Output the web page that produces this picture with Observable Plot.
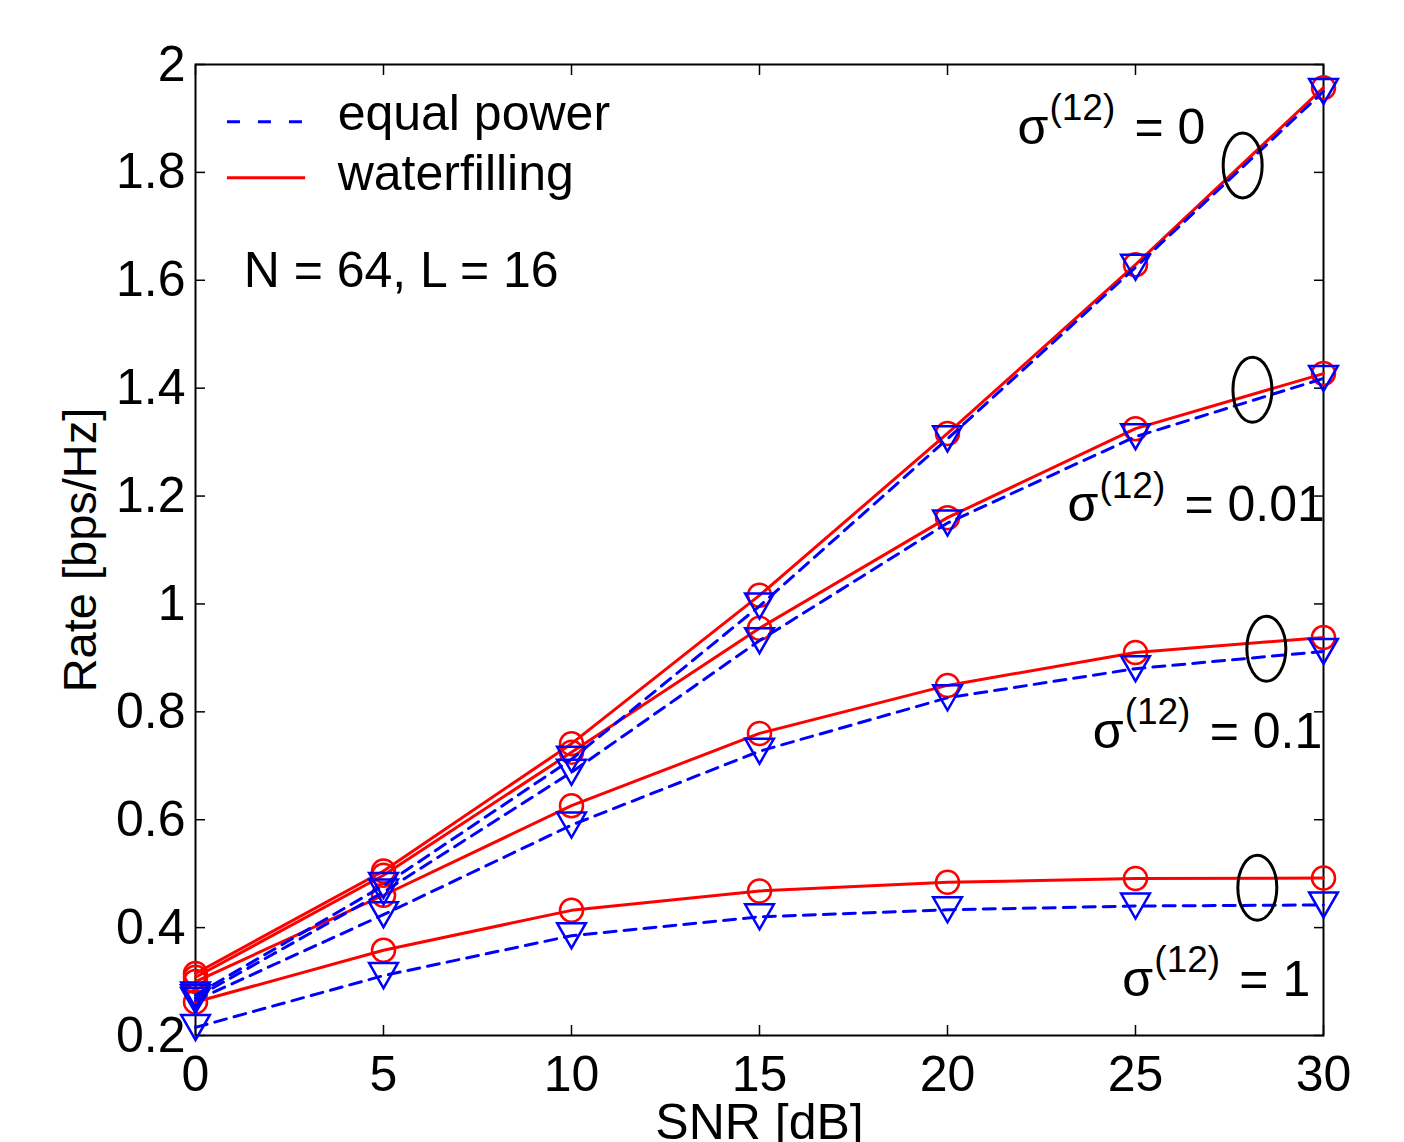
<!DOCTYPE html>
<html><head><meta charset="utf-8">
<script src="https://cdn.jsdelivr.net/npm/d3@7"></script>
<script src="https://cdn.jsdelivr.net/npm/@observablehq/plot@0.6"></script>
<style>body{margin:0;background:#fff} svg{display:block;font-family:"Liberation Sans",Arial,sans-serif}</style>
</head><body><div id="chart"></div>
<script>
// ---- data ----
const snr = [0, 5, 10, 15, 20, 25, 30];
const sigmas = ["0", "0.01", "0.1", "1"];
// waterfilling (red, solid)
const wf_s0   = [0.315, 0.505, 0.741, 1.016, 1.316, 1.629, 1.957];
const wf_s001 = [0.308, 0.497, 0.725, 0.955, 1.160, 1.325, 1.427];
const wf_s01  = [0.300, 0.460, 0.626, 0.760, 0.849, 0.910, 0.938];
const wf_s1   = [0.262, 0.358, 0.432, 0.468, 0.484, 0.491, 0.492];
// equal power (blue, dashed)
const ep_s0   = [0.275, 0.478, 0.712, 0.996, 1.306, 1.624, 1.950];
const ep_s001 = [0.270, 0.466, 0.688, 0.932, 1.150, 1.310, 1.418];
const ep_s01  = [0.265, 0.424, 0.590, 0.727, 0.826, 0.880, 0.912];
const ep_s1   = [0.215, 0.311, 0.385, 0.420, 0.433, 0.440, 0.442];
const xTicks = [0, 5, 10, 15, 20, 25, 30];
const yTicks = [0.2, 0.4, 0.6, 0.8, 1, 1.2, 1.4, 1.6, 1.8, 2];
// annotation anchors (data coordinates)
const labelX = [21.86, 23.19, 23.86, 24.65];
const labelY = [1.883, 1.184, 0.7634, 0.3037];
const ellipseX = [27.85, 28.11, 28.48, 28.24];
const ellipseY = [1.813, 1.397, 0.917, 0.474];
const legendNames = ["equal power", "waterfilling"];

// ---- build tables ----
const wfSeries = [wf_s0, wf_s001, wf_s01, wf_s1];
const epSeries = [ep_s0, ep_s001, ep_s01, ep_s1];
const toRows = (series) => series.flatMap((vals, k) => vals.map((v, i) => ({snr: snr[i], rate: v, sigma: sigmas[k]})));
const wfRows = toRows(wfSeries);
const epRows = toRows(epSeries);
const labels = sigmas.map((s, i) => ({x: labelX[i], y: labelY[i], v: "= " + s}));
const ellipses = ellipseX.map((x, i) => ({x, y: ellipseY[i]}));

const RED = "#ff0000", BLUE = "#0000ff";
const FS = 50;

const triDown = {draw(ctx, size) {
  const r = Math.sqrt(size / Math.PI), w = r * 1.15;
  ctx.moveTo(-w, -r); ctx.lineTo(w, -r); ctx.lineTo(0, r); ctx.closePath();
}};
const ellipseSym = {draw(ctx, size) {
  const ry = Math.sqrt(size / Math.PI), rx = ry * 0.6, k = 0.5523;
  ctx.moveTo(rx, 0);
  ctx.bezierCurveTo(rx, ry * k, rx * k, ry, 0, ry);
  ctx.bezierCurveTo(-rx * k, ry, -rx, ry * k, -rx, 0);
  ctx.bezierCurveTo(-rx, -ry * k, -rx * k, -ry, 0, -ry);
  ctx.bezierCurveTo(rx * k, -ry, rx, -ry * k, rx, 0);
  ctx.closePath();
}};

// legend layout (data coordinates)
const legendEP = [{name: legendNames[0], y: 1.894}];
const legendWF = [{name: legendNames[1], y: 1.79}];

const chart = Plot.plot({
  width: 1404, height: 1142,
  marginTop: 64, marginLeft: 195, marginRight: 81, marginBottom: 107,
  style: {fontFamily: "Liberation Sans, Arial, sans-serif", fontSize: FS + "px", background: "#fff"},
  x: {domain: [0, 30]},
  y: {domain: [0.2, 2]},
  marks: [
    // axes: labels
    Plot.axisX(xTicks, {tickSize: 0, tickPadding: 20, fontSize: FS, label: null, color: "#000", tickFormat: d => String(d)}),
    Plot.axisY(yTicks, {tickSize: 0, tickPadding: 10, fontSize: FS, label: null, color: "#000", tickFormat: d => String(d)}),
    // inward ticks
    Plot.axisX(xTicks, {anchor: "bottom", tickSize: -10, tickFormat: () => "", label: null, strokeWidth: 1.5}),
    Plot.axisX(xTicks, {anchor: "top", tickSize: -10, tickFormat: () => "", label: null, strokeWidth: 1.5}),
    Plot.axisY(yTicks, {anchor: "left", tickSize: -10, tickFormat: () => "", label: null, strokeWidth: 1.5}),
    Plot.axisY(yTicks, {anchor: "right", tickSize: -10, tickFormat: () => "", label: null, strokeWidth: 1.5}),
    Plot.frame({stroke: "#000", strokeWidth: 2}),
    // waterfilling
    Plot.line(wfRows, {x: "snr", y: "rate", z: "sigma", stroke: RED, strokeWidth: 3}),
    Plot.dot(wfRows, {x: "snr", y: "rate", r: 11.5, stroke: RED, strokeWidth: 2.5, fill: "none"}),
    // equal power
    Plot.line(epRows, {x: "snr", y: "rate", z: "sigma", stroke: BLUE, strokeWidth: 3, strokeDasharray: "12,8"}),
    Plot.dot(epRows, {x: "snr", y: "rate", r: 12.5, symbol: triDown, stroke: BLUE, strokeWidth: 2.5, fill: "none"}),
    // ellipses
    Plot.dot(ellipses, {x: "x", y: "y", r: 32.5, symbol: ellipseSym, stroke: "#000", strokeWidth: 3, fill: "none"}),
    // sigma labels
    Plot.text(labels, {x: "x", y: "y", text: () => "σ", textAnchor: "start", lineAnchor: "middle", fontSize: FS, fill: "#000"}),
    Plot.text(labels, {x: "x", y: "y", text: () => "(12)", dx: 32, dy: -19, textAnchor: "start", lineAnchor: "middle", fontSize: 37, fill: "#000"}),
    Plot.text(labels, {x: "x", y: "y", text: "v", dx: 117, textAnchor: "start", lineAnchor: "middle", fontSize: FS, fill: "#000"}),
    // legend
    Plot.ruleY(legendEP, {y: "y", x1: 0.85, x2: 2.93, stroke: BLUE, strokeWidth: 3, strokeDasharray: "13,18"}),
    Plot.ruleY(legendWF, {y: "y", x1: 0.85, x2: 2.93, stroke: RED, strokeWidth: 3}),
    Plot.text(legendEP, {x: 3.78, y: "y", text: "name", dy: -8, textAnchor: "start", lineAnchor: "middle", fontSize: FS, fill: "#000"}),
    Plot.text(legendWF, {x: 3.78, y: "y", text: "name", dy: -4, textAnchor: "start", lineAnchor: "middle", fontSize: FS, fill: "#000"}),
    Plot.text(["N = 64, L = 16"], {x: 1.28, y: 1.618, text: d => d, textAnchor: "start", lineAnchor: "middle", fontSize: FS, fill: "#000"}),
    // axis titles
    Plot.text(["SNR [dB]"], {frameAnchor: "bottom", text: d => d, dy: 87, textAnchor: "middle", lineAnchor: "middle", fontSize: FS, fill: "#000"}),
    Plot.text(["Rate [bps/Hz]"], {frameAnchor: "left", text: d => d, dx: -115, rotate: -90, textAnchor: "middle", lineAnchor: "middle", fontSize: 47, fill: "#000"})
  ]
});
document.getElementById("chart").appendChild(chart);
</script>
</body></html>
